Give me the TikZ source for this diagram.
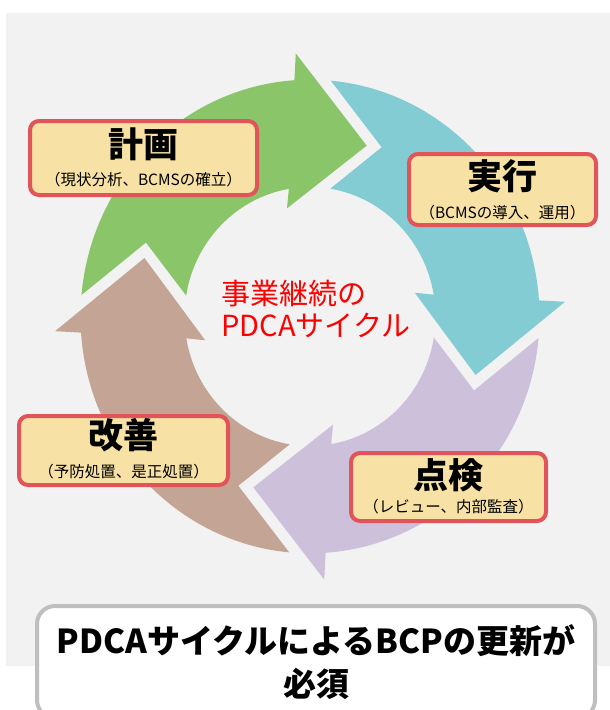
\documentclass[tikz,border=0pt]{standalone}
\usepackage{fontspec}
\setmainfont{Noto Sans CJK JP}
\usepackage{xcolor}
\usepackage{tikz}
\usetikzlibrary{positioning,calc}

\definecolor{bggray}{RGB}{242,242,242}
\definecolor{plangreen}{RGB}{139,197,106}
\definecolor{docyan}{RGB}{131,204,211}
\definecolor{checkpurple}{RGB}{205,192,218}
\definecolor{actbrown}{RGB}{196,165,149}
\definecolor{boxfill}{RGB}{247,225,164}
\definecolor{boxred}{RGB}{224,84,90}
\definecolor{notegray}{RGB}{191,191,191}
\definecolor{cyclered}{RGB}{255,0,0}

% one arrow of the cycle: #1 colour, #2 angle of the tip
\newcommand{\cyclearrow}[2]{%
  \fill [#1] ({#2+103.7}:229.5) arc [start angle={#2+103.7}, end angle={#2+22.8}, radius=229.5]
    -- ({#2+22.1}:255.4) -- ({#2}:175) -- ({#2+31.3}:107.3) -- ({#2+28.6}:125.5)
    arc [start angle={#2+28.6}, end angle={#2+99.6}, radius=125.5]
    -- ({#2+85.3}:179) -- cycle;}

\begin{document}
\begin{tikzpicture}[x=1pt, y=-1pt,
    stagebox/.style={draw=boxred, line width=4pt, fill=boxfill, rounded corners=9pt},
    stagetitle/.style={font=\fontsize{35}{38}\selectfont\bfseries, inner sep=0pt},
    stagesub/.style={font=\fontsize{15.5}{18}\selectfont, inner sep=0pt},
    notebox/.style={draw=notegray, line width=4pt, fill=white, rounded corners=18pt, align=center,
        font=\fontsize{33}{43}\selectfont\bfseries}]
    \useasboundingbox (0,0) rectangle (610,710);
    \fill [bggray] (6,13) rectangle (610,666);

    % the four arrows
    \begin{scope}[shift={(310,316.5)}, yscale=-1.032]
        \cyclearrow{plangreen}{71.1}
        \cyclearrow{docyan}{-18.9}
        \cyclearrow{checkpurple}{-108.9}
        \cyclearrow{actbrown}{161.1}
    \end{scope}

    \node [anchor=west, align=left, inner sep=0pt, text=cyclered, font=\fontsize{29}{32}\selectfont] (cycle) at (221,309) {事業継続の\\PDCAサイクル};

    \node [stagebox, minimum width=227pt, minimum height=74pt] (plan) at (143.5,158) {};
    \node [stagetitle] (plan-t) at ([yshift=14pt]plan.center) {計画};
    \node [stagesub] (plan-s) at ([yshift=-22pt]plan.center) {（現状分析、BCMSの確立）};

    \node [stagebox, minimum width=187pt, minimum height=71pt] (do) at (502.5,189.5) {};
    \node [stagetitle] (do-t) at ([yshift=13pt]do.center) {実行};
    \node [stagesub] (do-s) at ([yshift=-23pt]do.center) {（BCMSの導入、運用）};

    \node [stagebox, minimum width=195pt, minimum height=68pt] (check) at (448.5,487) {};
    \node [stagetitle] (check-t) at ([yshift=12pt]check.center) {点検};
    \node [stagesub] (check-s) at ([yshift=-20pt]check.center) {（レビュー、内部監査）};

    \node [stagebox, minimum width=209pt, minimum height=69pt] (act) at (123.5,450.5) {};
    \node [stagetitle] (act-t) at ([yshift=15pt]act.center) {改善};
    \node [stagesub] (act-s) at ([yshift=-21pt]act.center) {（予防処置、是正処置）};

    \node [notebox, minimum width=558pt, minimum height=112pt] (note) at (316,662) {PDCAサイクルによるBCPの更新が\\必須};
\end{tikzpicture}
\end{document}
